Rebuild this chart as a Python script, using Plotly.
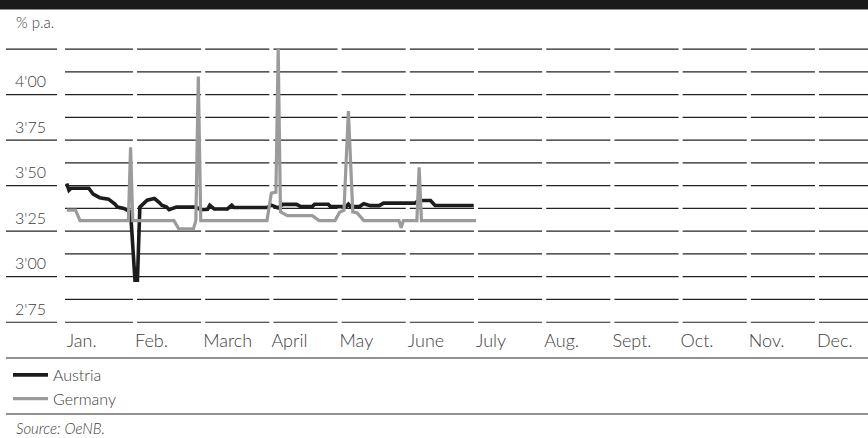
import calendar
import plotly.graph_objects as go

# ---------------- data ----------------
months = ["Jan.", "Feb.", "March", "April", "May", "June",
          "July", "Aug.", "Sept.", "Oct.", "Nov.", "Dec."]
y_label_values = [2.75, 3.00, 3.25, 3.50, 3.75, 4.00]
y_label_texts = ["2'75", "3'00", "3'25", "3'50", "3'75", "4'00"]

austria_dates = ["2002-01-01", "2002-01-02", "2002-01-03", "2002-01-11", "2002-01-13", "2002-01-16",
                 "2002-01-20", "2002-01-23", "2002-01-24", "2002-01-27", "2002-01-30", "2002-02-01",
                 "2002-02-02", "2002-02-03", "2002-02-06", "2002-02-09", "2002-02-11", "2002-02-12",
                 "2002-02-14", "2002-02-15", "2002-02-18", "2002-02-26", "2002-02-28", "2002-03-03",
                 "2002-03-04", "2002-03-06", "2002-03-12", "2002-03-14", "2002-03-15", "2002-03-30",
                 "2002-04-01", "2002-04-04", "2002-04-06", "2002-04-12", "2002-04-14", "2002-04-19",
                 "2002-04-20", "2002-04-26", "2002-04-27", "2002-05-04", "2002-05-05", "2002-05-06",
                 "2002-05-10", "2002-05-12", "2002-05-15", "2002-05-19", "2002-05-21", "2002-06-04",
                 "2002-06-06", "2002-06-11", "2002-06-13", "2002-06-30"]
austria_values = [3.512, 3.475, 3.486, 3.486, 3.453, 3.434,
                  3.426, 3.398, 3.382, 3.375, 3.356, 2.98,
                  2.98, 3.382, 3.42, 3.429, 3.407, 3.393,
                  3.382, 3.368, 3.382, 3.382, 3.368, 3.37,
                  3.392, 3.372, 3.372, 3.392, 3.38, 3.38,
                  3.393, 3.378, 3.397, 3.397, 3.385, 3.385,
                  3.398, 3.398, 3.385, 3.385, 3.398, 3.385,
                  3.385, 3.401, 3.39, 3.39, 3.404, 3.404,
                  3.418, 3.418, 3.391, 3.391]

germany_dates = ["2002-01-01", "2002-01-05", "2002-01-07", "2002-01-29", "2002-01-30", "2002-01-31",
                 "2002-02-17", "2002-02-19", "2002-02-25", "2002-02-26", "2002-02-27", "2002-02-28",
                 "2002-03-30", "2002-04-01", "2002-04-03", "2002-04-04", "2002-04-05", "2002-04-08",
                 "2002-04-19", "2002-04-22", "2002-04-29", "2002-05-01", "2002-05-03", "2002-05-05",
                 "2002-05-07", "2002-05-09", "2002-05-12", "2002-05-28", "2002-05-29", "2002-05-30",
                 "2002-06-05", "2002-06-06", "2002-06-07", "2002-07-01"]
germany_values = [3.365, 3.365, 3.308, 3.308, 3.71, 3.308,
                  3.308, 3.262, 3.262, 3.308, 4.10, 3.308,
                  3.308, 3.459, 3.464, 4.25, 3.356, 3.335,
                  3.335, 3.308, 3.308, 3.354, 3.365, 3.91,
                  3.356, 3.35, 3.308, 3.308, 3.269, 3.308,
                  3.308, 3.60, 3.308, 3.308]


def month_pos(d):
    """Position on the chart's axis, where every month has the same width."""
    y, m, dd = map(int, d.split("-"))
    n = calendar.monthrange(y, m)[1]
    return (m - 1) + (dd - 1) / n


# ---------------- layout geometry ----------------
W, H = 868, 438
ML, MR, MT, MB = 65, 0, 40, 114
PW, PH = W - ML - MR, H - MT - MB
X_RANGE = [-0.026, 11.748]
GAP = 0.03


def px_x(p):
    return (p - ML) / PW


def px_y(p):
    return (H - MB - p) / PH


GRID = "#222222"
TEXT = "#404040"
FONT = "Lato"

fig = go.Figure()
fig.add_trace(go.Scatter(x=[month_pos(d) for d in austria_dates], y=austria_values,
                         mode="lines", name="Austria",
                         line=dict(color="#1c1c1c", width=3.6)))
fig.add_trace(go.Scatter(x=[month_pos(d) for d in germany_dates], y=germany_values,
                         mode="lines", name="Germany",
                         line=dict(color="#9b9b9c", width=3.2)))

grid_vals = [2.75 + 0.125 * k for k in range(13)]
grid_text = []
for v in grid_vals:
    match = [t for lv, t in zip(y_label_values, y_label_texts) if abs(lv - v) < 1e-9]
    grid_text.append(match[0] if match else "")

shapes = []
# gridlines, broken at every month boundary
for v in grid_vals:
    for m in range(12):
        x0 = X_RANGE[0] if m == 0 else m + GAP
        x1 = X_RANGE[1] if m == 11 else m + 1 - GAP
        shapes.append(dict(type="line", xref="x", yref="y", x0=x0, x1=x1, y0=v, y1=v,
                           line=dict(color=GRID, width=1.1), layer="below"))
# gridline stubs in the label column at the labelled levels
for v in [2.75 + 0.25 * k for k in range(7)]:
    shapes.append(dict(type="line", xref="paper", yref="y", x0=px_x(6), x1=px_x(57),
                       y0=v, y1=v, line=dict(color=GRID, width=1.1)))
# top black band
shapes.append(dict(type="rect", xref="paper", yref="paper", x0=px_x(0), x1=px_x(W),
                   y0=px_y(9.5), y1=px_y(-1), fillcolor="#1a1a1a", line=dict(width=0)))
# separator lines
for p in (358, 414):
    shapes.append(dict(type="line", xref="paper", yref="paper", x0=px_x(6), x1=px_x(W),
                       y0=px_y(p), y1=px_y(p), line=dict(color="#6e6e6e", width=1.6)))

annotations = [
    dict(text="% p.a.", xref="paper", yref="paper", x=px_x(14), y=px_y(22),
         xanchor="left", yanchor="middle", showarrow=False,
         font=dict(family=FONT, size=15, color=TEXT, weight=300)),
    dict(text="<i>Source: OeNB.</i>", xref="paper", yref="paper", x=px_x(14), y=px_y(428),
         xanchor="left", yanchor="middle", showarrow=False,
         font=dict(family=FONT, size=15, color=TEXT, weight=300)),
]

fig.update_layout(
    width=W, height=H,
    margin=dict(l=ML, r=MR, t=MT, b=MB, pad=0, autoexpand=False),
    plot_bgcolor="white", paper_bgcolor="white",
    shapes=shapes, annotations=annotations,
    showlegend=True,
    legend=dict(x=px_x(8), y=px_y(358), xanchor="left", yanchor="top",
                orientation="v", font=dict(family=FONT, size=16, color=TEXT, weight=300),
                bgcolor="rgba(0,0,0,0)", tracegroupgap=0, itemwidth=35),
    xaxis=dict(range=X_RANGE, tickmode="array", tickvals=list(range(12)),
               ticktext=months, ticklabelposition="outside right", showgrid=False,
               zeroline=False, showline=False, ticks="", ticklabelstandoff=4,
               tickfont=dict(family=FONT, size=18, color=TEXT, weight=300)),
    yaxis=dict(range=[2.74, 4.30], tickmode="array", tickvals=grid_vals, ticktext=grid_text,
               showgrid=False, zeroline=False, showline=False,
               ticks="", ticklabelshift=-13, ticklabelstandoff=18,
               tickfont=dict(family=FONT, size=16, color=TEXT, weight=300)),
)

fig.write_html("out.html", config={"displayModeBar": False},
               post_script="document.body.style.margin='0';document.body.style.overflow='hidden';")
